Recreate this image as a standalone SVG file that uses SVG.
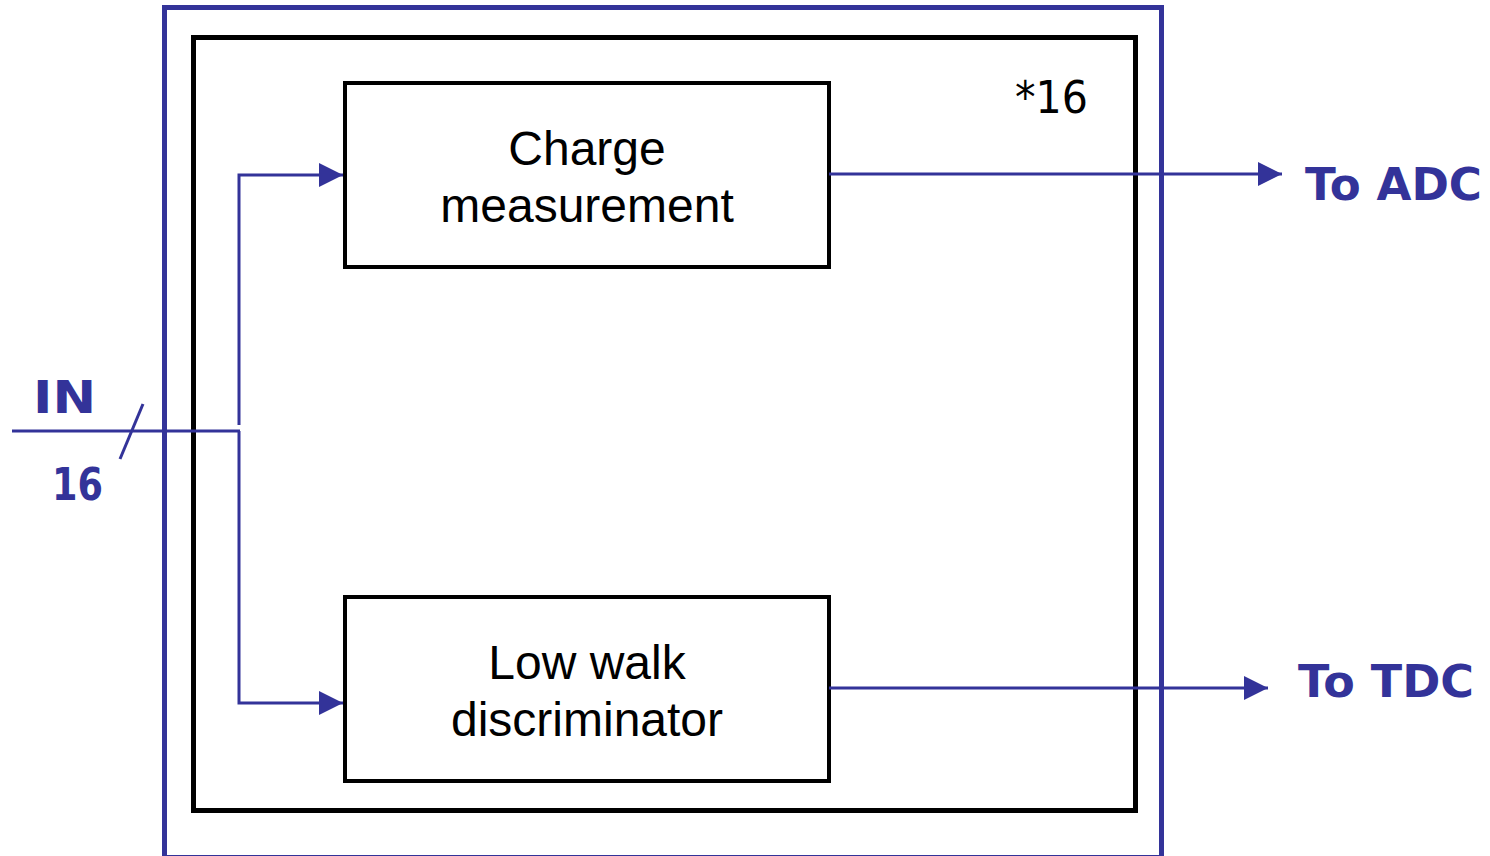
<svg xmlns="http://www.w3.org/2000/svg" width="1490" height="856" viewBox="0 0 1490 856">
  <defs>
    <style>
      .frame-blue { fill: none; stroke: #333399; stroke-width: 5; }
      .frame-black { fill: none; stroke: #000; stroke-width: 5; }
      .block { fill: #fff; stroke: #000; stroke-width: 4; }
      .wire { fill: none; stroke: #333399; stroke-width: 3; }
      .blk-text { font-family: "Liberation Sans", Arial, sans-serif; font-size: 48px; fill: #000; text-anchor: middle; }
      .sig-text { font-family: "DejaVu Sans", sans-serif; font-weight: bold; font-size: 44px; fill: #333399; }
      .mult-text { font-family: "DejaVu Sans", sans-serif; font-size: 44px; fill: #000; }
    </style>
    <marker id="arrow" viewBox="0 0 24 24" markerWidth="24" markerHeight="24" refX="24" refY="12" orient="auto" markerUnits="userSpaceOnUse">
      <path d="M0,0 L24,12 L0,24 Z" fill="#333399"/>
    </marker>
  </defs>

  <rect width="1490" height="856" fill="#fff"/>

  <!-- outer chip boundary -->
  <g id="chip">
    <rect class="frame-blue" x="164.5" y="7.5" width="997" height="850"/>
  </g>

  <!-- per-channel boundary -->
  <g id="channel">
    <rect class="frame-black" x="193.5" y="37.5" width="942" height="773"/>
    <text class="mult-text" x="1015" y="113" textLength="73" lengthAdjust="spacingAndGlyphs">*16</text>
  </g>

  <g id="charge-measurement">
    <rect class="block" x="345" y="83" width="484" height="184"/>
    <text class="blk-text" x="587" y="165">Charge</text>
    <text class="blk-text" x="587" y="222">measurement</text>
  </g>

  <g id="low-walk-discriminator">
    <rect class="block" x="345" y="597" width="484" height="184"/>
    <text class="blk-text" x="587" y="679">Low walk</text>
    <text class="blk-text" x="587" y="736">discriminator</text>
  </g>

  <g id="connectors">
    <!-- input bus -->
    <line class="wire" x1="12" y1="431" x2="240" y2="431"/>
    <line class="wire" x1="143" y1="404" x2="120" y2="459" stroke-width="2"/>
    <!-- split to the two blocks -->
    <polyline class="wire" points="239,425 239,175 343,175" marker-end="url(#arrow)"/>
    <polyline class="wire" points="239,431 239,703 343,703" marker-end="url(#arrow)"/>
    <!-- outputs -->
    <line class="wire" x1="829" y1="174" x2="1282" y2="174" marker-end="url(#arrow)"/>
    <line class="wire" x1="829" y1="688" x2="1268" y2="688" marker-end="url(#arrow)"/>
  </g>

  <g id="labels">
    <text class="sig-text" x="33" y="413" textLength="63" lengthAdjust="spacingAndGlyphs">IN</text>
    <text class="sig-text" x="52" y="500" textLength="51" lengthAdjust="spacingAndGlyphs">16</text>
    <text class="sig-text" x="1305" y="200" textLength="177" lengthAdjust="spacingAndGlyphs">To ADC</text>
    <text class="sig-text" x="1298" y="697" textLength="176" lengthAdjust="spacingAndGlyphs">To TDC</text>
  </g>
</svg>
